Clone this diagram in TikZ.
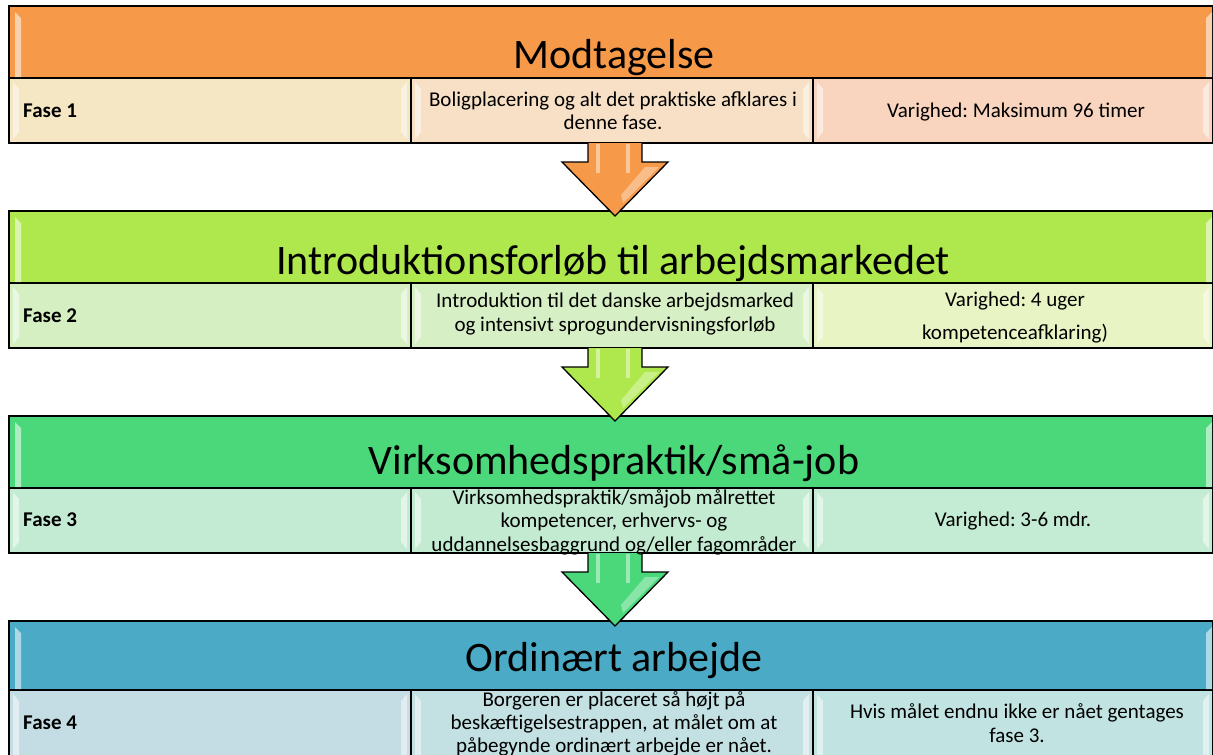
\documentclass[tikz,border=0pt]{standalone}
\usepackage{fontspec}
\setmainfont{Carlito}
\frenchspacing
\definecolor{orT}{HTML}{F69A4A}
\definecolor{orA}{HTML}{F5E6C4}
\definecolor{orB}{HTML}{F8E0C6}
\definecolor{orC}{HTML}{F9D5C0}
\definecolor{lgT}{HTML}{AFE84C}
\definecolor{lgA}{HTML}{D5EFC3}
\definecolor{lgB}{HTML}{D7EFC4}
\definecolor{lgC}{HTML}{E8F4C4}
\definecolor{gnT}{HTML}{4BD87A}
\definecolor{gnA}{HTML}{C3EBD3}
\definecolor{gnB}{HTML}{C3EBD2}
\definecolor{gnC}{HTML}{C4EBD3}
\definecolor{blT}{HTML}{4BABC6}
\definecolor{blA}{HTML}{C4DCE4}
\definecolor{blB}{HTML}{C3E0E2}
\definecolor{blC}{HTML}{C1E3E1}
\newcommand\PhaseBlock[8]{%
  \node[box, fill=#5, minimum width=1204pt, minimum height={(#3-#2)*1pt}] (t#1) at (9,#2) {};
  \node[box, fill=#6, minimum width=402pt, minimum height={(#4-#3)*1pt}] (a#1) at (9,#3) {};
  \node[box, fill=#7, minimum width=402pt, minimum height={(#4-#3)*1pt}] (b#1) at (411,#3) {};
  \node[box, fill=#8, minimum width=400pt, minimum height={(#4-#3)*1pt}] (c#1) at (813,#3) {};
  % bevel highlights of the title bar
  \fill[bev] (15,{#2+6}) -- (21,{#2+12}) -- (21,{#3-1}) -- (15,{#3-1}) -- cycle;
  \fill[bev] (1212,{#2+6}) -- (1206,{#2+12}) -- (1206,{#3-1}) -- (1212,{#3-1}) -- cycle;
  % bevel highlights of the cells
  \foreach \l/\r in {9/411,411/813,813/1213}{
    \fill[bevc] ({\l+4},{#3+4}) -- ({\l+10},{#3+11}) -- ({\l+10},{#4-11}) -- ({\l+4},{#4-4}) -- cycle;
    \fill[bevc] ({\r-4},{#3+4}) -- ({\r-10},{#3+11}) -- ({\r-10},{#4-11}) -- ({\r-4},{#4-4}) -- cycle;
  }
}
\newcommand\BlockArrow[4]{%
  \coordinate (#1) at (#2,#3);
  \draw[arr, fill=#4] ([shift={(-27,0)}]#1) -- ([shift={(-27,19)}]#1) -- ([shift={(-53,19)}]#1)
     -- ([shift={(0,73)}]#1) -- ([shift={(53,19)}]#1) -- ([shift={(27,19)}]#1) -- ([shift={(27,0)}]#1);
  \fill[white, opacity=0.45] ([shift={(-19,1)}]#1) rectangle ([shift={(-15,30)}]#1);
  \fill[white, opacity=0.45] ([shift={(11,1)}]#1) rectangle ([shift={(15,30)}]#1);
  \fill[white, opacity=0.35] ([shift={(30,24)}]#1) -- ([shift={(44,24)}]#1) -- ([shift={(8,60)}]#1) -- ([shift={(6,52)}]#1) -- cycle;
}
\begin{document}
\begin{tikzpicture}[x=1pt,y=-1pt,
  box/.style={draw=black, line width=1.5pt, inner sep=0pt, outer sep=0pt, anchor=north west},
  bev/.style={fill=white, opacity=0.55},
  bevc/.style={fill=white, opacity=0.5},
  ttl/.style={font=\fontsize{42}{48}\selectfont, anchor=base, inner sep=0pt},
  txt/.style={font=\fontsize{21}{23.5}\selectfont, align=center, anchor=base, inner sep=0pt},
  fase/.style={font=\fontsize{21}{23.5}\selectfont\bfseries, anchor=base west, inner sep=0pt},
  arr/.style={draw=black, line width=1.3pt, line join=miter}]
\useasboundingbox (0,0) rectangle (1213,755);
\fill[white] (0,0) rectangle (1213,755);

% blocks
\PhaseBlock{1}{6}{78}{143}{orT}{orA}{orB}{orC}
\PhaseBlock{2}{211}{283}{348}{lgT}{lgA}{lgB}{lgC}
\PhaseBlock{3}{416}{488}{553}{gnT}{gnA}{gnB}{gnC}
\PhaseBlock{4}{621}{690}{770}{blT}{blA}{blB}{blC}

% arrows
\BlockArrow{ar1}{615}{143}{orT}
\BlockArrow{ar2}{615}{348}{lgT}
\BlockArrow{ar3}{615}{553}{gnT}

% block 1 texts (multi-line nodes: base = last line's baseline)
\node[ttl] (tt1) at (614,68) {Modtagelse};
\node[fase] (f1) at (23,117) {Fase 1};
\node[txt] (m1) at (613,129.5) {Boligplacering og alt det praktiske afklares i\\denne fase.};
\node[txt] (r1) at (1016,117) {Varighed: Maksimum 96 timer};

% block 2 texts
\node[ttl] (tt2) at (613,274) {Introduktionsforløb til arbejdsmarkedet};
\node[fase] (f2) at (23,322) {Fase 2};
\node[txt] (m2) at (615,331) {Introduktion til det danske arbejdsmarked\\og intensivt sprogundervisningsforløb};
\node[txt, font=\fontsize{21}{33}\selectfont] (r2) at (1015,339) {Varighed: 4 uger\\kompetenceafklaring)};

% block 3 texts
\node[ttl] (tt3) at (614,474) {Virksomhedspraktik/små-job};
\node[fase] (f3) at (23,526) {Fase 3};
\node[txt] (m3) at (614,551) {Virksomhedspraktik/småjob målrettet\\kompetencer, erhvervs- og\\uddannelsesbaggrund og/eller fagområder};
\node[txt] (r3) at (1013,526) {Varighed: 3-6 mdr.};

% block 4 texts
\node[ttl] (tt4) at (614,671) {Ordinært arbejde};
\node[fase] (f4) at (23,729) {Fase 4};
\node[txt, font=\fontsize{21}{23}\selectfont] (m4) at (614,752) {Borgeren er placeret så højt på\\beskæftigelsestrappen, at målet om at\\påbegynde ordinært arbejde er nået.};
\node[txt, font=\fontsize{21}{24}\selectfont] (r4) at (1017,742) {Hvis målet endnu ikke er nået gentages\\fase 3.};
\end{tikzpicture}
\end{document}
